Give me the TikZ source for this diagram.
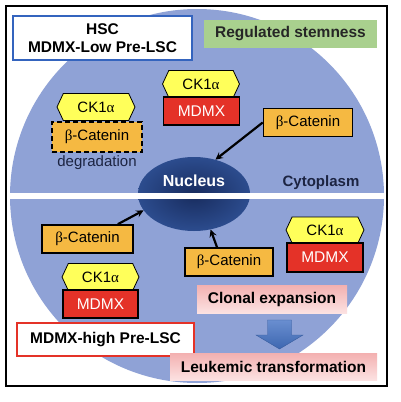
\documentclass[tikz,border=0pt]{standalone}
\usepackage{fontspec}
\setmainfont{Liberation Sans}
\newfontfamily\grk{Liberation Serif}
\usetikzlibrary{calc}
\usetikzlibrary{arrows}
\usetikzlibrary{shapes.symbols,shapes.geometric}
\usepackage{xcolor}
\usepackage{amsmath}

\definecolor{cyto}{RGB}{143,162,214}
\definecolor{nucin}{RGB}{24,44,94}
\definecolor{nucout}{RGB}{44,76,142}
\definecolor{ckyellow}{RGB}{255,255,90}
\definecolor{catorange}{RGB}{245,185,66}
\definecolor{mdmxred}{RGB}{228,50,40}
\definecolor{hscblue}{RGB}{52,100,190}
\definecolor{stemgreen}{RGB}{169,208,142}
\definecolor{pinktop}{RGB}{243,176,176}
\definecolor{pinkbot}{RGB}{252,226,226}
\definecolor{arrblue}{RGB}{68,114,196}
\definecolor{navytext}{RGB}{28,36,66}

\def\al{{\grk α}}
\def\be{{\grk β}}

\tikzset{
  ckbox/.style={signal, signal to=west and east, signal pointer angle=130,
    draw=black, line width=0.8pt, fill=ckyellow, minimum width=78pt,
    minimum height=27pt, inner sep=0pt, font=\fontsize{15}{17}\selectfont},
  catbox/.style={rectangle, draw=black, line width=1.6pt, fill=catorange,
    minimum width=89pt, minimum height=28pt, inner sep=0pt,
    font=\fontsize{15}{17}\selectfont},
  mdmxbox/.style={rectangle, draw=black, line width=1.2pt, fill=mdmxred,
    text=white, minimum width=76pt, minimum height=28pt, inner sep=0pt,
    font=\fontsize{15.5}{17}\selectfont},
  tagbox/.style={rectangle, fill=white, line width=1.6pt, inner sep=0pt,
    align=center, font=\bfseries\fontsize{15.5}{18}\selectfont},
  pinkbox/.style={rectangle, top color=pinktop, bottom color=pinkbot,
    inner sep=0pt, font=\bfseries\fontsize{15.5}{17}\selectfont},
  toward/.style={-stealth, line width=2.2pt, black}
}

\begin{document}
\begin{tikzpicture}[x=1pt,y=-1pt]
\useasboundingbox (0,0) rectangle (400,402);
\fill[white] (0,0) rectangle (400,402);

% cell
\fill[cyto] (197,196) circle (187);
\node[ellipse, inner sep=0pt, minimum width=112pt, minimum height=74pt,
  inner color=nucin, outer color=nucout] (nuc) at (194,194) {};
\fill[white] (6,193) rectangle (387,199);
\draw[line width=1.2pt] (6,6) rectangle (387,386);

\node[font=\bfseries\fontsize{16}{18}\selectfont, text=white] (nuctext) at (194,181) {Nucleus};
\node[font=\bfseries\fontsize{15}{17}\selectfont, text=navytext] (cyt) at (321,183) {Cytoplasm};

% upper half: HSC
\node[tagbox, draw=hscblue, minimum width=179pt, minimum height=44pt] (hsc) at (102.5,38) {HSC\\MDMX-Low Pre-LSC};
\node[rectangle, fill=stemgreen, minimum width=173pt, minimum height=28pt,
  font=\bfseries\fontsize{15.5}{17}\selectfont, text=black!85] (stem) at (290.5,34) {Regulated stemness};

\node[ckbox] (ckA) at (96,107) {CK1\al};
\node[catbox, dashed, dash pattern=on 5pt off 3pt, minimum width=90pt, minimum height=30pt] (catdeg) at (97,137) {\be-Catenin};
\node[font=\fontsize{15}{17}\selectfont, text=navytext] (deg) at (97,163) {degradation};

\node[ckbox, minimum width=77pt] (ckB) at (201,84) {CK1\al};
\node[mdmxbox] (mdmxA) at (201.5,111) {MDMX};

\node[catbox] (catA) at (308,122.5) {\be-Catenin};
\draw[toward] (catA.west) -- (nuc.58);

% lower half: pre-LSC
\node[catbox, minimum width=91pt] (catB) at (87.5,239) {\be-Catenin};
\draw[toward] ([xshift=-16pt]catB.north east) -- (nuc.198);

\node[ckbox, minimum width=77pt] (ckC) at (100.5,277) {CK1\al};
\node[mdmxbox, minimum width=75pt] (mdmxB) at (100.5,304) {MDMX};

\node[catbox, minimum width=88pt] (catC) at (229,262) {\be-Catenin};
\draw[toward] ([xshift=-12pt]catC.north) -- (nuc.295);

\node[ckbox, minimum width=78pt, minimum height=26pt] (ckD) at (325,230) {CK1\al};
\node[mdmxbox, minimum height=29pt] (mdmxC) at (325,257.5) {MDMX};

\node[pinkbox, minimum width=150pt, minimum height=28pt] (clonal) at (272,299) {Clonal expansion};
\node[tagbox, draw=mdmxred, minimum width=177pt, minimum height=33pt] (high) at (105.5,339.5) {MDMX-high Pre-LSC};
\node[pinkbox, minimum width=207pt, minimum height=27pt] (leuk) at (273.5,366.5) {Leukemic transformation};

\coordinate (dn) at (279.5,320);
\shade[top color=arrblue!80, bottom color=arrblue!90!black, draw=arrblue!80!black, line width=0.4pt]
  ($(dn)+(-12,0)$) -- ++(24,0) -- ++(0,15) -- ++(11.5,0) -- (279.5,349) -- (256,335) -- (267.5,335) -- cycle;
\end{tikzpicture}
\end{document}
